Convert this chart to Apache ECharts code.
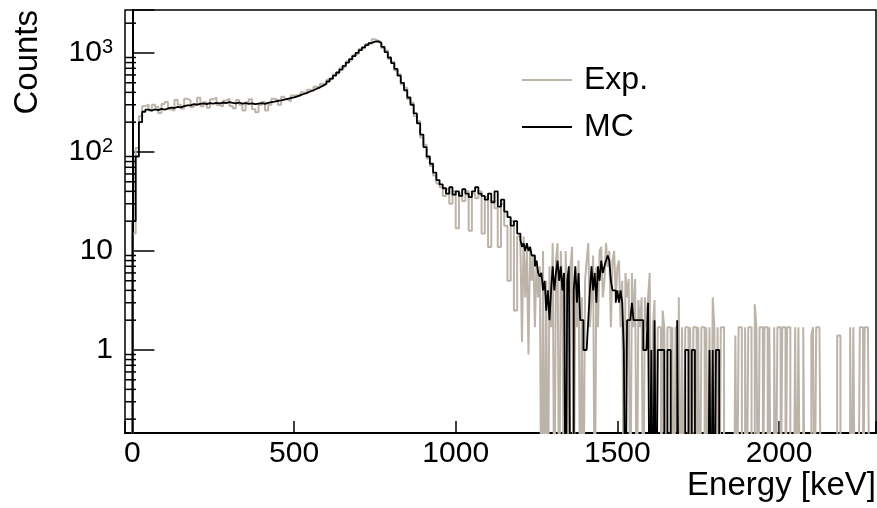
<!DOCTYPE html>
<html>
<head>
<meta charset="utf-8">
<script src="https://cdn.jsdelivr.net/npm/echarts@6/dist/echarts.min.js"></script>
<style>html,body{margin:0;padding:0;background:#fff}#c{width:877px;height:508px}</style>
</head>
<body>
<div id="c"></div>
<script>
// ---- data ----
// low-energy part: 10 keV bins from 0 keV; tail: 5 keV bins from 1200 keV
const lowStart = 0, lowWidth = 10;
const highStart = 1200, highWidth = 5;
const histEnd = 2300;
const xTicks = [0, 500, 1000, 1500, 2000];
const yDecades = [1, 10, 100, 1000];
const seriesNames = ['Exp.', 'MC'];

const expLow = [
  15, 110, 230, 290, 300,
  262, 300, 285, 248, 305, 320, 270, 262, 335, 300,
  275, 345, 330, 285, 300, 352, 290, 318, 280, 340,
  355, 298, 288, 330, 345, 292, 276, 335, 300, 262,
  318, 340, 270, 252, 300, 320, 262, 300, 345, 335,
  300, 362, 340, 325, 372,
  375, 368, 400, 388, 425, 412, 455, 445, 490, 480,
  535, 545, 605, 625, 700, 730, 820, 850, 950, 985,
  1100, 1120, 1230, 1250, 1380, 1330, 1300, 1120, 1060, 870,
  815, 665, 610, 480, 445, 340, 315, 230, 205, 140,
  118, 86, 72, 58, 48, 44, 36, 42, 30, 40,
  17, 38, 32, 40, 16, 38, 34, 40, 15, 35,
  11, 32, 27, 11, 30, 18, 5, 20, 2.5, 14
];
const expHigh = [
  12, 1.2, 14, 3.4, 10, 0.9, 11, 5, 9, 1.7, 8, 3.4, 7, 0, 10, 0, 5, 0, 7, 1.7,
  12, 0, 8, 12, 0, 10, 3.4, 0, 10, 1.7,
  0, 7, 11, 0, 5, 1.7, 8, 0, 3.4, 0,
  5, 8, 12, 1.7, 3.4, 9, 0, 6.9, 1.7, 10,
  11, 3.4, 5, 12, 6.9, 10, 1.7, 8, 10, 3.4,
  6.9, 8, 1.7, 5, 0, 6, 3.4, 5.2, 0, 6,
  1.7, 5.2, 0, 3.2, 1.7, 3.4, 0, 3.4, 1.7, 3.4,
  6, 0, 1.7, 3.2, 0, 1.7, 1.7, 0, 2.5, 1.7,
  0, 1.7, 1.7, 0, 1.7, 0, 1.7, 1.7, 3.4, 0,
  1.7, 0, 1.7, 1.7, 0, 1.7, 0, 1.7, 1.7, 0,
  1.7, 0, 1.7, 1.7, 0, 1.7, 0, 1.7, 0, 3.4,
  1.7, 0, 1.7, 0, 1.7, 1.7, 0, 0, 0, 0,
  0, 0, 0, 1.4, 0, 1.7, 1.7, 0, 0, 1.7,
  0, 1.7, 1.7, 0, 0, 2.9, 1.7, 0, 1.7, 1.7,
  0, 1.7, 1.7, 0, 1.7, 0, 0, 1.7, 0, 1.7,
  1.7, 0, 1.7, 1.7, 0, 1.7, 1.7, 0, 0, 0,
  1.7, 0, 1.7, 0, 0, 1.7, 0, 0, 0, 0,
  1.4, 1.7, 0, 1.7, 1.7, 1.7, 0, 0, 0, 0,
  0, 0, 0, 0, 0, 0, 1.4, 1.4, 0, 0,
  0, 0, 0, 0, 1.7, 0, 1.7, 0, 0, 0,
  1.7, 1.7, 0, 1.7, 1.7, 1.7, 0, 0, 0, 0
];

const mcLow = [
  20, 90, 200, 255, 268,
  262, 270, 265, 272, 268, 275, 280, 278, 285, 282,
  290, 295, 296, 304, 300, 306, 310, 305, 312, 308,
  314, 310, 316, 312, 318, 314, 310, 316, 308, 312,
  306, 310, 304, 308, 312, 306, 314, 318, 322, 328,
  332, 338, 344, 350, 356,
  365, 375, 385, 395, 408, 420, 435, 450, 468, 490,
  515, 550, 590, 635, 680, 740, 800, 865, 930, 1000,
  1070, 1140, 1200, 1260, 1300, 1310, 1260, 1150, 1020, 900,
  790, 690, 590, 500, 420, 355, 300, 245, 195, 150,
  112, 90, 76, 62, 52, 47, 43, 38, 44, 37,
  40, 36, 42, 38, 35, 40, 44, 38, 36, 33,
  38, 31, 40, 28, 33, 25, 22, 18, 20, 15
];
const mcHigh = [
  13, 11, 12, 10, 12, 10, 11, 9, 9, 7, 8, 6, 5.5, 6, 4, 5, 2.5, 4, 2, 4,
  7, 4, 6, 8, 5, 7, 4, 6, 0, 5,
  7, 0, 0, 4, 7, 3, 6, 2, 2, 1,
  1, 1, 2, 4, 7, 4, 6, 3, 7, 5,
  8, 6, 7, 8, 9, 8, 5, 4, 4, 3,
  4, 3, 4, 3, 1, 0, 2, 2, 2, 3,
  2, 2, 2, 2, 2, 2, 1, 1, 1, 3,
  0, 1, 0, 2, 0, 1, 1, 1, 1, 0,
  0, 1, 1, 0, 0, 0, 0, 2, 0, 0,
  0, 0, 1, 1, 0, 0, 1, 1, 0, 0,
  0, 0, 0, 0, 0, 0, 0, 1, 0, 1,
  0, 1, 1, 0, 0, 0, 0, 0, 0, 0,
  0, 0, 0, 0, 0, 0, 0, 0, 0, 0,
  0, 0, 0, 0, 0, 0, 0, 0, 0, 0,
  0, 0, 0, 0, 0, 0, 0, 0, 0, 0,
  0, 0, 0, 0, 0, 0, 0, 0, 0, 0,
  0, 0, 0, 0, 0, 0, 0, 0, 0, 0,
  0, 0, 0, 0, 0, 0, 0, 0, 0, 0,
  0, 0, 0, 0, 0, 0, 0, 0, 0, 0,
  0, 0, 0, 0, 0, 0, 0, 0, 0, 0,
  0, 0, 0, 0, 0, 0, 0, 0, 0, 0
];

// ---- axis ranges ----
const xMin = -23, xMax = 2300;
const yMin = 0.145, yMax = 2717;

const FONT = '"Liberation Sans", Arial, sans-serif';
const EXP_COLOR = '#bdb4a9';
const FLOOR = 0.01; // empty bins drop below the axis floor (clipped)

function histPoints(low, high) {
  const pts = [[lowStart, FLOOR]];
  low.forEach((c, i) => pts.push([lowStart + i * lowWidth, c > 0 ? c : FLOOR]));
  high.forEach((c, i) => pts.push([highStart + i * highWidth, c > 0 ? c : FLOOR]));
  pts.push([histEnd, FLOOR]);
  return pts;
}

const minorVals = [];
for (let k = -1; k <= 3; k++) {
  for (let d = 2; d <= 9; d++) {
    const v = d * Math.pow(10, k);
    if (v > yMin && v < yMax) minorVals.push([xMin, v]);
  }
}

const chart = echarts.init(document.getElementById('c'), null, {renderer: 'canvas'});
chart.setOption({
  animation: false,
  backgroundColor: '#fff',
  textStyle: {fontFamily: FONT},
  grid: {
    left: 125, right: 1, top: 10, bottom: 75,
    show: true, borderColor: '#000', borderWidth: 1.5,
    backgroundColor: 'transparent',
    outerBoundsMode: 'none'
  },
  legend: {
    data: seriesNames,
    orient: 'vertical',
    left: 522, top: 62,
    padding: 0,
    icon: 'rect',
    itemWidth: 50, itemHeight: 2,
    itemGap: 11,
    textStyle: {fontSize: 32, fontFamily: FONT, color: '#000', lineHeight: 36, padding: [0, 0, 0, 7]}
  },
  xAxis: {
    type: 'value', min: xMin, max: xMax,
    minInterval: 500, maxInterval: 500,
    name: 'Energy [keV]', nameLocation: 'end', nameGap: 0,
    nameTextStyle: {fontSize: 33, fontFamily: FONT, color: '#000', align: 'right', verticalAlign: 'top', padding: [36, 0, 0, 0]},
    axisLine: {show: true, lineStyle: {color: '#000', width: 2}},
    axisTick: {show: true, inside: true, length: 12, lineStyle: {color: '#000', width: 1.5}},
    axisLabel: {
      fontSize: 30, fontFamily: FONT, color: '#000', margin: 6,
      formatter: v => (xTicks.indexOf(Math.round(v)) >= 0 && Math.abs(v - Math.round(v)) < 1e-6) ? String(Math.round(v)) : ''
    },
    splitLine: {show: false}
  },
  yAxis: {
    type: 'log', logBase: 10, min: yMin, max: yMax,
    name: 'Counts', nameLocation: 'end', nameGap: 0, nameRotate: 90,
    nameTextStyle: {fontSize: 33, fontFamily: FONT, color: '#000', align: 'right', verticalAlign: 'bottom', padding: [0, 0, 88, 0]},
    axisLine: {show: true, lineStyle: {color: '#000', width: 2}},
    axisTick: {show: true, inside: true, length: 22, lineStyle: {color: '#000', width: 1.5}},
    axisLabel: {
      margin: 12, color: '#000',
      formatter: v => {
        const e = Math.log10(v), r = Math.round(e);
        if (Math.abs(e - r) > 1e-6) return '';
        const dec = Math.pow(10, r);
        if (yDecades.indexOf(dec) < 0) return '';
        if (r === 0) return '{b|1}';
        if (r === 1) return '{b|10}';
        return '{b|10}{s|' + r + '}';
      },
      rich: {
        b: {fontSize: 30, fontFamily: FONT, color: '#000', lineHeight: 30},
        s: {fontSize: 20, fontFamily: FONT, color: '#000', lineHeight: 20, verticalAlign: 'top'}
      }
    },
    splitLine: {show: false}
  },
  series: [
    {
      name: 'Exp.', type: 'line', step: 'end', data: histPoints(expLow, expHigh),
      showSymbol: false, symbol: 'none', clip: true, color: EXP_COLOR,
      lineStyle: {color: EXP_COLOR, width: 2}, z: 2
    },
    {
      name: 'MC', type: 'line', step: 'end', data: histPoints(mcLow, mcHigh),
      showSymbol: false, symbol: 'none', clip: true, color: '#000',
      lineStyle: {color: '#000', width: 1.8}, z: 3
    },
    {
      name: 'minorTicks', type: 'custom', data: minorVals, silent: true, z: 4,
      renderItem: (params, api) => {
        const p = api.coord([api.value(0), api.value(1)]);
        return {type: 'line', shape: {x1: p[0], y1: p[1], x2: p[0] + 11, y2: p[1]},
                style: {stroke: '#000', lineWidth: 1.5}};
      }
    }
  ]
});
</script>
</body>
</html>
